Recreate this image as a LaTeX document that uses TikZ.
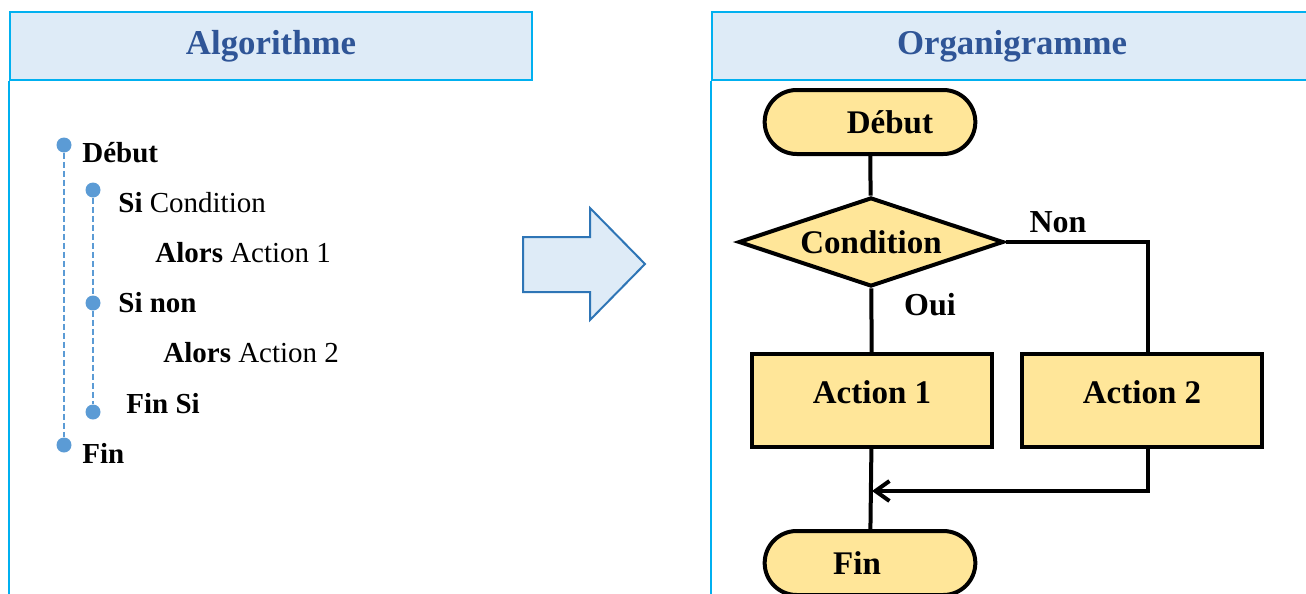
\documentclass[tikz,border=0pt]{standalone}
\usepackage{fontspec}
\setmainfont{Liberation Serif}
\usetikzlibrary{shapes.geometric,shapes.misc,arrows.meta}
\definecolor{headfill}{HTML}{DEEBF7}
\definecolor{headline}{HTML}{00B0F0}
\definecolor{headtext}{HTML}{2F5597}
\definecolor{dotblue}{HTML}{5B9BD5}
\definecolor{arrowline}{HTML}{2E75B6}
\definecolor{boxfill}{HTML}{FFE699}
\begin{document}
\begin{tikzpicture}[x=0.5pt,y=-0.5pt,
    header/.style={draw=headline,line width=1pt,fill=headfill,text=headtext,
      font=\fontsize{17.4}{20}\selectfont\bfseries,minimum height=34pt,inner sep=0pt},
    dot/.style={circle,fill=dotblue,minimum size=7.5pt,inner sep=0pt},
    item/.style={anchor=base west,inner sep=0pt,font=\fontsize{14.5}{17}\selectfont},
    guide/.style={dotblue,line width=1.2pt,dash pattern=on 3pt off 1.5pt},
    term/.style={rounded rectangle,draw,line width=2pt,fill=boxfill,
      minimum width=112pt,minimum height=32pt,font=\fontsize{16.5}{19}\selectfont\bfseries},
    decision/.style={diamond,draw,line width=2pt,fill=boxfill,aspect=3,inner sep=0pt,
      minimum width=132.5pt,minimum height=44.5pt,font=\fontsize{16.5}{19}\selectfont\bfseries},
    action/.style={rectangle,draw,line width=2pt,fill=boxfill,
      minimum width=120pt,minimum height=46.5pt,font=\fontsize{16.5}{19}\selectfont\bfseries},
    flowlabel/.style={font=\fontsize{16}{19}\selectfont\bfseries,inner sep=0pt},
    flow/.style={line width=2pt}]
  \useasboundingbox (0,0) rectangle (1306,594);

  % headers
  \node[header,minimum width=261pt] (algo) at (271,46) {Algorithme};
  \node[header,minimum width=300pt] (orga) at (1012,46) {Organigramme};
  \draw[headline,line width=0.75pt] (algo.south west) -- ++(0,514);
  \draw[headline,line width=0.75pt] (orga.south west) -- ++(0,514);

  % algorithm
  \node[dot] (d1) at (64,145) {};
  \node[dot] (d2) at (93,190) {};
  \node[dot] (d3) at (93,303) {};
  \node[dot] (d4) at (93,412) {};
  \node[dot] (d5) at (64,445) {};
  \draw[guide] (d1) -- (d5);
  \draw[guide] (d2) -- (d3) -- (d4);
  \node[item] (t1) at (82,162) {\textbf{Début}};
  \node[item] (t2) at (118,212) {\textbf{Si} Condition};
  \node[item] (t3) at (155,262) {\textbf{Alors} Action 1};
  \node[item] (t4) at (118,312) {\textbf{Si non}};
  \node[item] (t5) at (163,362) {\textbf{Alors} Action 2};
  \node[item] (t6) at (126,413) {\textbf{Fin Si}};
  \node[item] (t7) at (82,463) {\textbf{Fin}};

  % arrow
  \draw[arrowline,fill=headfill,line width=1pt]
    (523,237) -- (590,237) -- (590,208) -- (645,264) -- (590,320) -- (590,292) -- (523,292) -- cycle;

  % flowchart
  \node[term] (debut) at (870,122) {\hspace{20pt}Début};
  \node[decision] (cond) at (871,242) {Condition};
  \node[action] (act1) at (872,400.5) {\raisebox{8pt}{Action 1}};
  \node[action] (act2) at (1142,400.5) {\raisebox{8pt}{Action 2}};
  \node[term] (fin) at (870,563) {Fin\kern13pt};
  \coordinate (merge) at (act1.south |- 0,491);

  \draw[flow] (debut) -- (cond);
  \draw[flow] (cond) -- (act1);
  \draw[flow] (cond.east) -| ([xshift=3pt]act2.north);
  \draw[flow] (act1) -- (fin);
  \draw[flow,-{Straight Barb[length=7pt,width=10pt]}] ([xshift=3pt]act2.south) |- (merge);
  \node[flowlabel] (oui) at (930,305) {Oui};
  \node[flowlabel] (non) at (1058,222) {Non};
\end{tikzpicture}
\end{document}
